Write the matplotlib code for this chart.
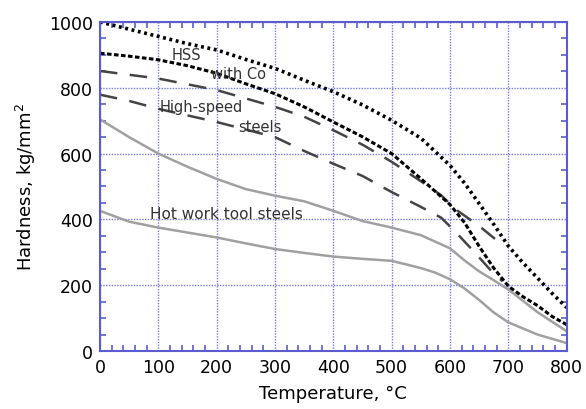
import numpy as np
import matplotlib.pyplot as plt
from matplotlib.ticker import MultipleLocator

# HSS with Co (two curves)
t_co1 = [0, 50, 100, 150, 200, 250, 300, 350, 400, 450, 500, 550, 600, 625, 650, 675, 700, 725, 750, 775, 800]
h_co1 = [1000, 978, 956, 934, 915, 886, 859, 823, 788, 748, 701, 647, 564, 510, 448, 385, 319, 268, 222, 175, 132]
t_co2 = [0, 50, 100, 150, 200, 250, 300, 350, 400, 450, 500, 550, 600, 625, 650, 675, 700, 725, 750, 775, 800]
h_co2 = [905, 896, 885, 867, 844, 812, 782, 742, 696, 651, 600, 524, 445, 390, 318, 252, 197, 165, 138, 105, 80]

# high-speed steels
t_hs1 = [0, 100, 200, 300, 350, 400, 450, 500, 550, 585, 610, 650, 690]
h_hs1 = [851, 828, 793, 742, 712, 671, 627, 575, 516, 473, 430, 380, 322]
t_hs2 = [0, 50, 100, 200, 300, 350, 400, 450, 500, 550, 585, 610, 640, 675, 690]
h_hs2 = [779, 760, 736, 696, 650, 608, 569, 532, 483, 438, 405, 361, 304, 235, 212]

# hot work tool steels
t_hw1 = [0, 50, 100, 150, 200, 250, 300, 350, 400, 450, 500, 550, 600, 625, 650, 675, 700, 750, 800]
h_hw1 = [704, 650, 600, 560, 523, 492, 472, 455, 426, 395, 375, 352, 312, 275, 242, 215, 187, 118, 60]
t_hw2 = [0, 50, 100, 150, 200, 250, 300, 350, 400, 450, 500, 550, 575, 600, 625, 650, 675, 700, 750, 800]
h_hw2 = [426, 393, 375, 360, 345, 327, 310, 298, 287, 280, 274, 252, 238, 218, 190, 155, 117, 87, 50, 24]

blue = '#5c5cd2'

fig = plt.figure(figsize=(5.86, 4.10), dpi=100)
ax = fig.add_axes([0.1706, 0.1415, 0.7964, 0.8025])

ax.plot(t_hw1, h_hw1, color='#a0a0a0', lw=1.8)
ax.plot(t_hw2, h_hw2, color='#a0a0a0', lw=1.8)
ax.plot(t_hs1, h_hs1, color='#444444', lw=1.8, dashes=(7, 5))
ax.plot(t_hs2, h_hs2, color='#444444', lw=1.8, dashes=(7, 5))
ax.plot(t_co2, h_co2, color='black', lw=2.2, dashes=(1.5, 0.8))
ax.plot(t_co1, h_co1, color='black', lw=2.6, dashes=(0.8, 1.0))

ax.set_xlim(0, 800)
ax.set_ylim(0, 1000)
ax.xaxis.set_major_locator(MultipleLocator(100))
ax.xaxis.set_minor_locator(MultipleLocator(20))
ax.yaxis.set_major_locator(MultipleLocator(200))
ax.yaxis.set_minor_locator(MultipleLocator(50))
ax.grid(True, which='major', color='#7a7ae6', ls=(0, (1, 1)), lw=1.0)
for s in ax.spines.values():
    s.set_color(blue)
    s.set_linewidth(1.5)
ax.tick_params(which='both', direction='in', top=True, right=True, color=blue, labelsize=12.5, pad=5)
ax.tick_params(which='major', length=0)
ax.tick_params(which='minor', length=4, width=1.2)

ax.set_xlabel('Temperature, \u00b0C', fontsize=13, labelpad=6)
ax.set_ylabel('Hardness, kg/mm$^2$', fontsize=13, labelpad=8)

tc = '#333333'
ax.text(149, 901, 'HSS', color=tc, fontsize=10.5, ha='center', va='center')
ax.text(237, 843, 'with Co', color=tc, fontsize=10.5, ha='center', va='center')
ax.text(174, 744, 'High-speed', color=tc, fontsize=10.5, ha='center', va='center')
ax.text(274, 683, 'steels', color=tc, fontsize=10.5, ha='center', va='center')
ax.text(217, 417, 'Hot work tool steels', color=tc, fontsize=11, ha='center', va='center')

fig.savefig('out.png', dpi=100)
